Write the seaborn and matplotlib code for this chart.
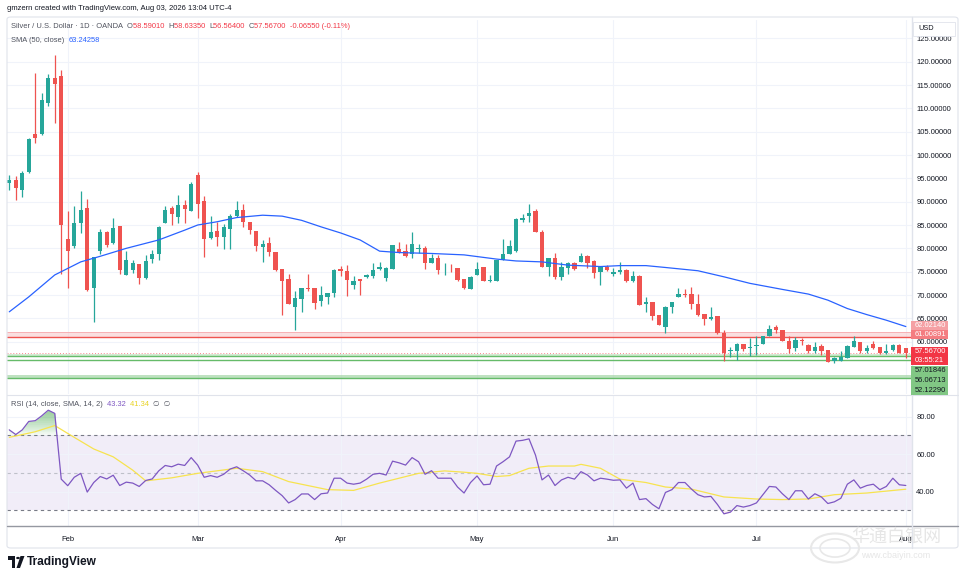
import numpy as np
import pandas as pd
import matplotlib
matplotlib.use("Agg")
import matplotlib.pyplot as plt
import seaborn as sns
from matplotlib.patches import Rectangle, FancyBboxPatch, Circle, Polygon

# ---------------- data ----------------
opens = [94.1, 94.6, 92.5, 96.4, 104.6, 104.4, 111.2, 116.5, 116.9, 82.0,
         80.6, 85.4, 88.7, 71.4, 79.5, 83.6, 81.1, 84.8, 74.3, 75.4,
         76.6, 73.6, 77.7, 78.8, 85.5, 88.6, 86.8, 89.3, 88.1, 95.7,
         90.1, 82.3, 83.8, 82.5, 84.1, 86.9, 88.3, 85.7, 83.7, 80.2,
         81.2, 79.3, 75.5, 73.4, 67.5, 69.1, 71.6, 71.5, 68.7, 69.5,
         70.5, 75.6, 75.1, 72.1, 73.4, 73.8, 74.1, 75.6, 73.6, 75.6,
         79.8, 79.4, 78.8, 79.9, 80.1, 76.9, 77.9, 75.7, 75.8, 75.7,
         73.4, 71.3, 74.3, 75.9, 73.0, 72.9, 77.4, 78.7, 79.4, 86.1,
         86.9, 87.9, 83.6, 76.1, 77.9, 73.9, 75.8, 76.8, 77.1, 78.4,
         77.3, 74.9, 76.0, 74.6, 75.0, 75.4, 72.9, 74.1, 68.1, 68.4,
         65.7, 63.1, 67.5, 69.6, 70.2, 70.2, 68.1, 65.9, 64.8, 65.4,
         61.9, 58.0, 58.1, 59.5, 58.6, 59.0, 59.5, 61.3, 63.1, 62.4,
         60.2, 58.6, 60.4, 59.3, 57.9, 59.1, 58.2, 55.9, 55.9, 56.6,
         58.9, 59.9, 57.9, 59.6, 58.8, 57.5, 58.2, 59.3, 58.5901]
highs = [95.7, 95.5, 96.6, 103.6, 117.6, 113.2, 117.4, 121.4, 118.2, 88.0,
         89.1, 92.3, 90.5, 78.2, 84.1, 83.8, 86.4, 84.8, 79.5, 77.5,
         76.6, 78.6, 79.6, 84.8, 89.1, 89.1, 91.4, 90.4, 94.3, 96.4,
         91.3, 86.9, 85.7, 85.2, 87.3, 90.1, 89.4, 85.7, 83.7, 81.8,
         82.5, 79.3, 75.5, 74.6, 70.9, 71.4, 74.6, 71.5, 71.9, 70.5,
         75.5, 76.2, 76.4, 74.1, 73.4, 74.6, 76.9, 77.1, 76.1, 80.7,
         81.3, 80.9, 83.4, 80.9, 80.4, 78.8, 78.6, 76.8, 76.6, 75.7,
         73.4, 74.1, 77.1, 75.9, 74.3, 77.6, 82.1, 81.8, 86.4, 87.4,
         89.5, 88.4, 83.9, 77.9, 79.1, 77.1, 77.1, 77.1, 78.9, 78.6,
         77.5, 76.3, 76.5, 75.7, 77.1, 75.6, 75.2, 74.3, 69.6, 68.5,
         65.8, 67.6, 68.6, 71.6, 71.2, 71.8, 70.2, 66.0, 67.5, 65.5,
         62.5, 58.9, 59.8, 59.6, 60.7, 61.2, 61.3, 63.6, 63.6, 62.5,
         61.2, 60.9, 60.7, 59.6, 60.0, 59.4, 58.3, 56.8, 57.9, 59.2,
         61.2, 60.0, 59.3, 60.2, 58.9, 59.4, 59.5, 59.5, 58.6335]
lows = [92.5, 90.4, 90.9, 96.2, 102.5, 104.3, 110.4, 106.8, 74.6, 71.6,
        80.1, 83.2, 70.9, 64.3, 78.8, 80.2, 81.0, 74.6, 74.3, 74.8,
        72.3, 73.4, 76.8, 77.6, 85.4, 85.1, 85.5, 85.5, 88.1, 86.6,
        78.2, 82.1, 80.6, 79.8, 79.8, 86.8, 84.6, 83.1, 79.5, 77.1,
        78.4, 75.2, 65.7, 68.0, 62.6, 66.4, 70.9, 67.1, 67.7, 68.0,
        69.5, 74.1, 69.8, 71.3, 70.0, 73.6, 73.6, 75.4, 72.9, 75.6,
        78.9, 78.2, 77.9, 78.9, 75.6, 76.9, 74.6, 74.3, 75.0, 73.1,
        71.2, 71.3, 74.3, 72.9, 72.8, 72.9, 77.4, 78.7, 79.3, 85.7,
        85.7, 83.4, 75.9, 74.1, 73.4, 73.2, 74.6, 75.4, 77.1, 75.7,
        73.6, 72.1, 75.1, 74.1, 74.6, 72.8, 72.8, 67.8, 66.4, 64.6,
        63.5, 61.9, 66.2, 69.5, 69.6, 67.0, 65.6, 63.6, 64.6, 61.7,
        55.9, 56.8, 56.1, 57.9, 57.0, 57.1, 59.4, 61.2, 61.9, 60.1,
        57.5, 57.9, 59.3, 57.6, 57.5, 57.1, 55.6, 55.4, 55.8, 56.5,
        58.8, 57.5, 57.5, 58.4, 57.4, 57.4, 57.9, 57.5, 56.564]
closes = [94.6, 93.0, 96.2, 103.4, 103.7, 111.8, 116.6, 115.3, 85.1, 79.5,
          85.4, 88.2, 71.1, 78.2, 83.4, 80.7, 84.3, 75.4, 77.5, 76.8,
          73.6, 77.3, 78.7, 84.6, 88.2, 87.3, 89.3, 88.4, 93.8, 89.4,
          82.1, 83.4, 82.4, 84.5, 86.9, 88.3, 85.7, 83.9, 80.6, 80.9,
          79.3, 75.4, 72.9, 68.0, 69.3, 71.4, 71.3, 68.2, 70.0, 70.5,
          75.4, 75.2, 73.2, 73.0, 73.1, 74.2, 75.4, 76.1, 75.7, 80.7,
          78.9, 78.4, 80.9, 80.1, 76.9, 77.9, 75.4, 75.8, 75.7, 73.2,
          71.4, 73.8, 75.6, 72.9, 73.1, 77.6, 78.7, 80.5, 86.2, 86.4,
          87.6, 83.6, 75.9, 77.9, 73.8, 75.9, 76.8, 75.6, 78.4, 76.9,
          74.8, 76.1, 75.4, 75.0, 75.4, 72.9, 74.1, 67.9, 68.4, 65.6,
          63.6, 67.5, 68.4, 70.2, 70.1, 68.1, 65.7, 64.9, 65.2, 61.8,
          57.6, 58.2, 59.5, 58.4, 58.8, 59.3, 61.2, 62.7, 62.4, 60.2,
          58.4, 60.4, 60.2, 57.9, 58.9, 58.1, 55.7, 56.4, 56.8, 59.1,
          60.2, 57.9, 58.6, 58.6, 57.5, 57.9, 59.3, 57.6325, 57.567]

rsi_values = [73.0, 70.5, 73.0, 77.5, 77.9, 80.5, 83.5, 81.8, 46.7, 43.2,
              47.7, 49.8, 39.8, 44.9, 48.1, 46.8, 48.8, 43.3, 45.1, 44.6,
              42.8, 46.0, 46.8, 51.1, 54.0, 53.3, 54.7, 54.0, 58.2, 54.2,
              47.7, 48.6, 47.7, 49.3, 52.1, 53.3, 51.2, 48.9, 45.8, 45.8,
              43.7, 40.7, 37.9, 34.0, 35.8, 38.8, 38.8, 35.8, 38.9, 39.3,
              47.2, 47.2, 44.6, 44.0, 44.6, 46.7, 49.3, 49.8, 48.9, 56.3,
              55.4, 54.2, 58.2, 56.0, 49.3, 51.2, 47.2, 47.2, 47.2, 42.5,
              39.3, 44.9, 48.4, 43.7, 44.0, 53.7, 56.0, 58.6, 67.0, 67.4,
              68.2, 59.5, 46.3, 48.9, 43.3, 46.3, 47.7, 46.7, 50.7, 48.9,
              45.8, 47.2, 46.7, 46.1, 46.3, 41.9, 44.6, 35.8, 36.3, 33.2,
              30.9, 39.6, 41.1, 44.9, 44.9, 41.4, 38.4, 37.2, 37.5, 33.2,
              28.2, 29.1, 32.6, 31.8, 32.6, 34.0, 38.4, 42.8, 42.5, 38.9,
              35.8, 40.5, 40.5, 36.1, 38.9, 37.2, 33.7, 34.6, 36.5, 44.0,
              46.3, 41.9, 43.3, 44.0, 41.1, 42.8, 47.2, 43.7, 43.32]

sma_bars = [0, 3, 7, 11, 14, 18, 23, 27, 29, 32, 35, 39, 42, 45, 48, 51, 54,
            57, 60, 65, 70, 75, 78, 82, 86, 91, 94, 98, 101, 106, 110, 114,
            119, 123, 126, 129, 132, 135, 138]
sma_vals = [66.4, 69.6, 74.3, 77.1, 78.3, 80.0, 81.8, 83.9, 85.0, 85.7, 86.6,
            87.1, 86.9, 86.0, 84.6, 83.3, 81.8, 79.4, 79.1, 78.9, 78.6, 77.7,
            77.3, 77.1, 76.4, 76.1, 76.3, 76.3, 75.9, 75.2, 73.9, 72.5, 71.2,
            70.2, 68.9, 67.1, 65.8, 64.6, 63.24258]

rsi_sma_bars = [0, 4, 7, 10, 13, 16, 19, 21, 25, 29, 35, 39, 43, 49, 53, 57,
                63, 67, 70, 72, 75, 77, 80, 83, 87, 88, 91, 94, 98, 101, 105,
                110, 115, 119, 123, 127, 132, 138]
rsi_sma_vals = [69.0, 72.0, 75.3, 69.0, 62.8, 58.6, 51.5, 45.8, 47.4, 49.8,
                52.5, 50.7, 45.4, 41.1, 40.7, 44.6, 49.8, 51.1, 50.4, 49.8,
                48.1, 48.6, 52.5, 53.7, 53.7, 54.6, 52.5, 46.7, 44.9, 42.5,
                41.4, 37.2, 36.1, 35.8, 36.1, 38.4, 39.3, 41.34]

price_ticks = [60, 65, 70, 75, 80, 85, 90, 95, 100, 105, 110, 115, 120, 125]
rsi_ticks = [40, 60, 80]
resistance_zone = [61.00891, 62.02140]
support_levels = [57.01846, 56.06713]
support_zone = [52.12290, 52.85]
countdown = "03:55:21"

dates = pd.bdate_range("2026-01-20", "2026-08-03")
dates = dates[dates != pd.Timestamp("2026-04-03")]

# ---------------- styling ----------------
sns.set_theme(style="white")
plt.rcParams['font.family'] = ['Liberation Sans', 'DejaVu Sans']

W, H = 964, 582
GREEN = '#26a69a'
RED = '#ef5350'
TXT = '#131722'
GRID = '#f0f3fa'


def fx(x):
    return x / W


def fy(y):
    return 1 - y / H


fig = plt.figure(figsize=(W / 100, H / 100), dpi=100, facecolor='white')
ax = fig.add_axes([fx(7), fy(394), fx(912) - fx(7), fy(20) - fy(394)])
axr = fig.add_axes([fx(7), fy(526), fx(912) - fx(7), fy(395) - fy(526)])

n = len(closes)
x = np.arange(n)
o = np.array(opens); h = np.array(highs); l = np.array(lows); c = np.array(closes)
up = c >= o
cols = np.where(up, GREEN, RED)

month_pos, month_lab = [], []
for i in range(1, n):
    if dates[i].month != dates[i - 1].month:
        month_pos.append(i)
        month_lab.append(dates[i].strftime('%b'))

for a in (ax, axr):
    a.set_facecolor('white')
    for s in a.spines.values():
        s.set_visible(False)
    a.set_xlim(-0.35, 138.95)
    a.set_xticks(month_pos)
    a.grid(True, color=GRID, lw=0.8)
    a.yaxis.tick_right()
    a.tick_params(axis='both', length=0, labelsize=5.5, colors=TXT, pad=3)
    a.set_axisbelow(True)

# ---- price panel ----
ax.set_ylim(48.79, 128.93)
ax.set_yticks(price_ticks)
ax.set_yticklabels([f"{v:.5f}" for v in price_ticks])
ax.set_xticklabels([])

# level zones
ax.axhspan(resistance_zone[0], resistance_zone[1], color='#f7c5c8', alpha=0.55, lw=0, zorder=1)
ax.axhline(resistance_zone[0], color='#ef5350', lw=1.0, zorder=1.5)
ax.axhline(resistance_zone[1], color='#f7a9ad', lw=0.6, zorder=1.5)
ax.axhspan(support_levels[0], support_levels[0] + 0.35, color='#c8e6c9', alpha=0.8, lw=0, zorder=1)
for lv in support_levels:
    ax.axhline(lv, color='#66bb6a', lw=1.0, zorder=1.5)
ax.axhspan(support_zone[0], support_zone[1], color='#a5d6a7', alpha=0.7, lw=0, zorder=1)
ax.axhline(support_zone[0], color='#66bb6a', lw=1.0, zorder=1.5)
ax.axhline(c[-1], color='#f23645', lw=0.7, ls=(0, (1, 2)), alpha=0.6, zorder=1.5)

# candles
body_bottom = np.minimum(o, c)
body_h = np.maximum(np.abs(c - o), 0.15)
ax.vlines(x, l, h, colors=cols, lw=0.9, zorder=3)
ax.bar(x, body_h, bottom=body_bottom, width=0.66, color=cols, linewidth=0, zorder=4)

sns.lineplot(x=sma_bars, y=sma_vals, ax=ax, color='#2962ff', lw=0.9, zorder=5)
ax.set_xlabel(''); ax.set_ylabel('')

# ---- RSI panel ----
r = np.array(rsi_values)
axr.set_ylim(21.7, 91.6)
axr.set_yticks(rsi_ticks)
axr.set_yticklabels([f"{v:.2f}" for v in rsi_ticks])
axr.set_xticklabels(month_lab)
axr.tick_params(axis='x', pad=7)
axr.axhspan(30, 70, color='#7e57c2', alpha=0.1, lw=0, zorder=0.5)
axr.axhline(70, color='#787b86', lw=0.8, ls=(0, (3, 3)), zorder=1)
axr.axhline(30, color='#787b86', lw=0.8, ls=(0, (3, 3)), zorder=1)
axr.axhline(50, color='#b2b5be', lw=0.8, ls=(0, (3, 3)), alpha=0.8, zorder=1)

# overbought / oversold gradient fills (stacked translucent layers)
for lev in np.linspace(70, 84, 15):
    axr.fill_between(x, lev, r, where=r > lev, interpolate=True, color='#4caf50',
                     alpha=0.05, lw=0, zorder=1.2)
for lev in np.linspace(30, 26, 5):
    axr.fill_between(x, lev, r, where=r < lev, interpolate=True, color='#ef5350',
                     alpha=0.08, lw=0, zorder=1.2)

sns.lineplot(x=x, y=r, ax=axr, color='#7e57c2', lw=0.9, zorder=3)
sns.lineplot(x=rsi_sma_bars, y=rsi_sma_vals, ax=axr, color='#f7e34f', lw=0.9, zorder=2.5)
axr.set_xlabel(''); axr.set_ylabel('')
axr.set_xlim(-0.35, 138.95)

# ---------------- frame lines ----------------
def hline_px(y, x0, x1, color, lw=0.8):
    fig.add_artist(plt.Line2D([fx(x0), fx(x1)], [fy(y), fy(y)], color=color, lw=lw,
                              transform=fig.transFigure))


def vline_px(xp, y0, y1, color, lw=0.8):
    fig.add_artist(plt.Line2D([fx(xp), fx(xp)], [fy(y0), fy(y1)], color=color, lw=lw,
                              transform=fig.transFigure))


hline_px(394.5, 7, 958, '#e0e3eb')
hline_px(526, 7, 958, '#9598a1', lw=1.0)
vline_px(912, 17, 548, '#e0e3eb', lw=1.0)
fig.add_artist(FancyBboxPatch((fx(7), fy(548)), fx(958) - fx(7), fy(17) - fy(548),
                              boxstyle="round,pad=0,rounding_size=0.004",
                              transform=fig.transFigure, fill=False, ec='#e0e3eb', lw=0.8))

# USD box
fig.add_artist(Rectangle((fx(913), fy(35.5)), fx(42), fy(0) - fy(13.5),
                         transform=fig.transFigure, fc='white', ec='#e0e3eb', lw=0.6, zorder=5))
fig.text(fx(918), fy(28.5), 'USD', fontsize=5.3, color=TXT, va='center', ha='left', zorder=6)

# price tags
def tag(y0, y1, color, lines, tcolor='white'):
    fig.add_artist(Rectangle((fx(911), fy(y1)), fx(948) - fx(911), fy(y0) - fy(y1),
                             transform=fig.transFigure, fc=color, ec='none', zorder=5))
    k = len(lines)
    for j, t in enumerate(lines):
        yc = y0 + (y1 - y0) * (j + 0.5) / k
        fig.text(fx(915), fy(yc), t, fontsize=5.4, color=tcolor, va='center', ha='left', zorder=6)


tag(320.7, 329.5, '#f5a0a4', [f"{resistance_zone[1]:.5f}"])
tag(330.0, 339.3, '#f47c80', [f"{resistance_zone[0]:.5f}"])
tag(347.0, 364.5, '#f23645', [f"{c[-1]:.5f}", countdown])
tag(365.7, 395.0, '#81c784', [f"{support_levels[0]:.5f}", f"{support_levels[1]:.5f}",
                              f"{support_zone[0]:.5f}"], tcolor=TXT)

# ---------------- legend texts ----------------
fig.canvas.draw()
renderer = fig.canvas.get_renderer()


def seq_text(x0, y0, parts, size=5.4):
    xp = x0
    for s, col in parts:
        t = fig.text(fx(xp), fy(y0), s, fontsize=size, color=col, va='center', ha='left')
        bb = t.get_window_extent(renderer=renderer)
        xp += bb.width


fig.text(fx(7), fy(8), "gmzern created with TradingView.com, Aug 03, 2026 13:04 UTC-4",
         fontsize=5.5, color=TXT, va='center', ha='left')
chg = c[-1] - c[-2]
pct = chg / c[-2] * 100
GRAY = '#50535e'
VR = '#f23645'
seq_text(11, 27, [("Silver / U.S. Dollar · 1D · OANDA  ", GRAY),
                  ("O", GRAY), (f"{o[-1]:.5f}  ", VR),
                  ("H", GRAY), (f"{h[-1]:.5f}  ", VR),
                  ("L", GRAY), (f"{l[-1]:.5f}  ", VR),
                  ("C", GRAY), (f"{c[-1]:.5f}  ", VR),
                  (f"{chg:.5f} ({pct:.2f}%)", VR)])
seq_text(11, 40, [("SMA (50, close)  ", GRAY), (f"{sma_vals[-1]:.5f}", '#2962ff')])
seq_text(11, 405, [("RSI (14, close, SMA, 14, 2)  ", GRAY), (f"{rsi_values[-1]:.2f}  ", '#7e57c2'),
                   (f"{rsi_sma_vals[-1]:.2f}  ", '#e8d220'), ("∅  ∅", GRAY)])

# ---------------- TradingView logo ----------------
fig.add_artist(Polygon([(fx(8), fy(556)), (fx(15.5), fy(556)), (fx(15.5), fy(568)),
                        (fx(12), fy(568)), (fx(12), fy(559.5)), (fx(8), fy(559.5))],
                       closed=True, transform=fig.transFigure, fc=TXT, ec='none'))
fig.add_artist(Circle((fx(18), fy(558)), 1.9 / W, transform=fig.transFigure, fc=TXT, ec='none'))
fig.add_artist(Polygon([(fx(20.5), fy(556)), (fx(24.5), fy(556)), (fx(20), fy(568)), (fx(16.5), fy(568))],
                       closed=True, transform=fig.transFigure, fc=TXT, ec='none'))
fig.text(fx(27), fy(562.5), "TradingView", fontsize=8.6, fontweight='bold', color=TXT,
         va='center', ha='left')

# ---------------- watermark ----------------
fig.add_artist(Circle((fx(835), fy(548)), 24 / W, transform=fig.transFigure, fill=False,
                      ec='#e8e8e8', lw=1.5, zorder=7))
fig.add_artist(Circle((fx(835), fy(548)), 15 / W, transform=fig.transFigure, fill=False,
                      ec='#e8e8e8', lw=1.2, zorder=7))
fig.text(fx(896), fy(537), "华通白银网", fontsize=13, color='#e6e6e6', ha='center', va='center',
         family=['Noto Sans CJK SC', 'DejaVu Sans'], zorder=7)
fig.text(fx(896), fy(556), "www.cbaiyin.com", fontsize=6.5, color='#e6e6e6', ha='center',
         va='center', zorder=7)

fig.savefig("out.png", dpi=100, facecolor='white')
